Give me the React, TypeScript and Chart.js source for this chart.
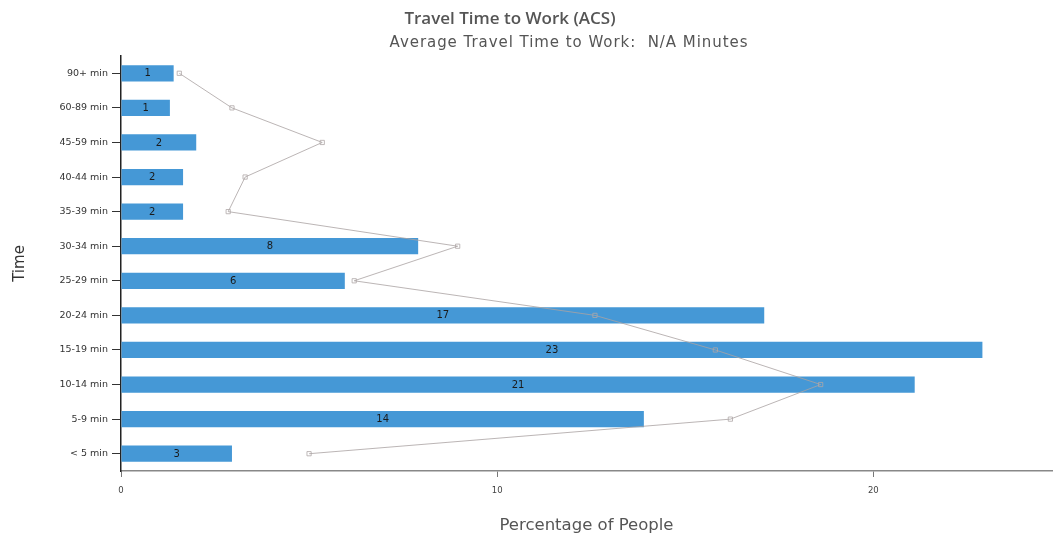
import React, { useEffect, useRef } from "react";
import { Chart, registerables } from "chart.js";

Chart.register(...registerables);

// Commute-time brackets, top to bottom
const categories = [
  "90+ min",
  "60-89 min",
  "45-59 min",
  "40-44 min",
  "35-39 min",
  "30-34 min",
  "25-29 min",
  "20-24 min",
  "15-19 min",
  "10-14 min",
  "5-9 min",
  "< 5 min",
];

// Share of workers in each bracket (%)
const percentValues = [1.4, 1.3, 2.0, 1.65, 1.65, 7.9, 5.95, 17.1, 22.9, 21.1, 13.9, 2.95];

// Comparison area share (%)
const comparisonValues = [1.55, 2.95, 5.35, 3.3, 2.85, 8.95, 6.2, 12.6, 15.8, 18.6, 16.2, 5.0];

const xTickValues = [0, 10, 20];

const FONT = "'DejaVu Sans', 'Open Sans', sans-serif";
const TITLE_FONT = "'Open Sans', 'DejaVu Sans', sans-serif";

// Rounded value printed in the middle of each bar
const barValueLabels = {
  id: "barValueLabels",
  afterDatasetsDraw(chart: any) {
    const meta = chart.getDatasetMeta(0);
    const ds = chart.data.datasets[0];
    const ctx = chart.ctx;
    ctx.save();
    ctx.font = `10px ${FONT}`;
    ctx.fillStyle = "#1a1a1a";
    ctx.textAlign = "center";
    ctx.textBaseline = "middle";
    meta.data.forEach((bar: any, i: number) => {
      const v = ds.data[i] as number;
      const cx = (bar.x + bar.base) / 2;
      ctx.fillText(String(Math.round(v)), cx, bar.y + 0.5);
    });
    ctx.restore();
  },
};

export default function App() {
  const canvasRef = useRef<HTMLCanvasElement | null>(null);

  useEffect(() => {
    if (!canvasRef.current) return;
    const chart = new Chart(canvasRef.current, {
      type: "bar",
      data: {
        labels: categories,
        datasets: [
          {
            type: "bar",
            label: "Percentage of People",
            data: percentValues,
            backgroundColor: "#4598d6",
            borderColor: "#4598d6",
            borderWidth: 0,
            barPercentage: 0.47,
            categoryPercentage: 1,
            order: 1,
          } as any,
          {
            type: "line",
            label: "Comparison",
            data: comparisonValues,
            indexAxis: "y",
            borderColor: "rgba(170,162,162,0.8)",
            borderWidth: 1,
            pointStyle: "rect",
            pointRadius: 3,
            pointBorderWidth: 1,
            pointBorderColor: "rgba(175,168,168,0.8)",
            pointBackgroundColor: "rgba(255,255,255,0)",
            fill: false,
            tension: 0,
            order: 0,
          } as any,
        ],
      },
      options: {
        indexAxis: "y",
        responsive: false,
        animation: false,
        devicePixelRatio: 1,
        layout: { padding: { top: 56, left: 0, right: 0, bottom: 0 } },
        plugins: {
          legend: { display: false },
          title: { display: false },
          tooltip: { enabled: false },
        },
        scales: {
          x: {
            type: "linear",
            min: 0,
            max: 24.75,
            afterFit(scale: any) {
              scale.height = 69;
            },
            afterBuildTicks(scale: any) {
              scale.ticks = xTickValues.map((v) => ({ value: v }));
            },
            ticks: {
              includeBounds: false,
              font: { family: FONT, size: 8.5 },
              color: "#444",
              padding: 9,
            },
            grid: {
              drawOnChartArea: false,
              drawTicks: true,
              tickLength: 6,
              color: "#777",
            },
            border: { color: "#888", width: 1.5 },
            title: {
              display: true,
              text: "Percentage of People",
              font: { family: FONT, size: 16.5 },
              color: "#555",
              padding: { top: 4, bottom: 4 },
            },
          },
          y: {
            type: "category",
            afterFit(scale: any) {
              scale.width = 121;
            },
            ticks: {
              font: { family: FONT, size: 9.5 },
              color: "#333",
              padding: 4,
            },
            grid: {
              offset: false,
              drawOnChartArea: false,
              drawTicks: true,
              tickLength: 9,
              color: "#333",
            },
            border: { color: "#222", width: 1.5 },
            title: {
              display: true,
              text: "Time",
              font: { family: FONT, size: 15 },
              color: "#333",
              padding: { top: 11, bottom: 11 },
            },
          },
        },
      } as any,
      plugins: [barValueLabels],
    });
    return () => chart.destroy();
  }, []);

  return (
    <div
      style={{
        position: "fixed",
        left: 0,
        top: 0,
        width: 1057,
        height: 540,
        background: "#fff",
      }}
    >
      <canvas ref={canvasRef} width={1057} height={540} style={{ position: "absolute", left: 0, top: 0 }} />
      <div
        style={{
          position: "absolute",
          left: 510,
          top: 17,
          transform: "translate(-50%, -50%)",
          fontFamily: TITLE_FONT,
          fontSize: 17,
          fontWeight: 600,
          color: "#555",
          whiteSpace: "pre",
        }}
      >
        Travel Time to Work (ACS)
      </div>
      <div
        style={{
          position: "absolute",
          left: 569,
          top: 42,
          transform: "translate(-50%, -50%)",
          fontFamily: FONT,
          fontSize: 15,
          letterSpacing: "0.95px",
          color: "#555",
          whiteSpace: "pre",
        }}
      >
        {"Average Travel Time to Work:  N/A Minutes"}
      </div>
    </div>
  );
}
